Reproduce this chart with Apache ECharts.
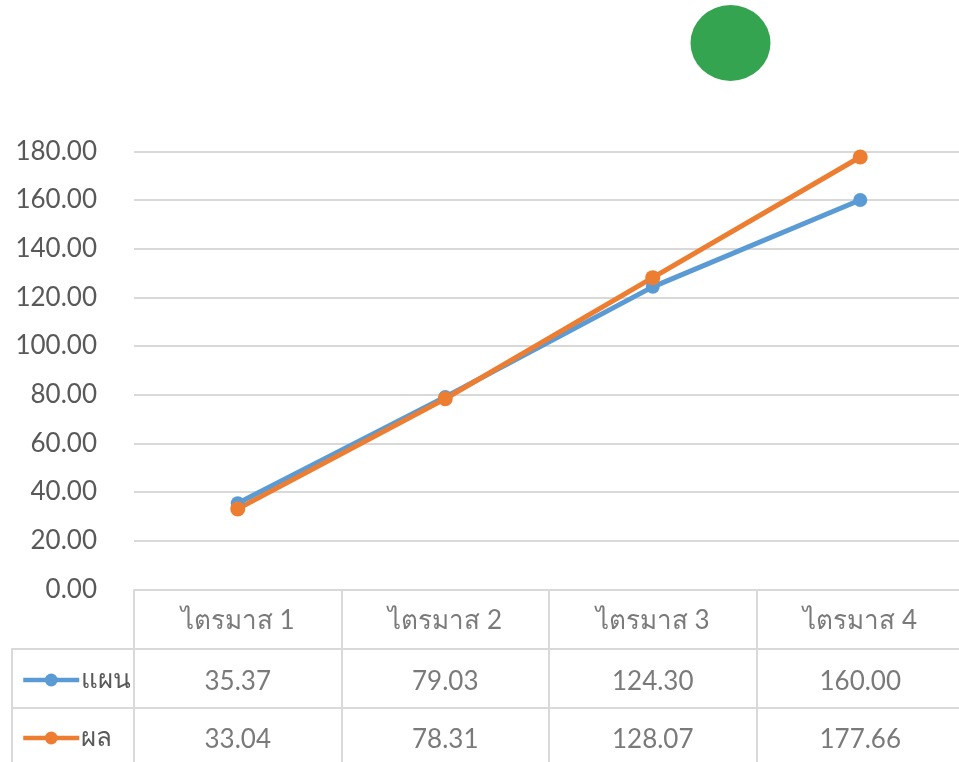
<!DOCTYPE html>
<html lang="th">
<head>
    <meta charset="UTF-8">
    <script type="text/javascript" src="https://cdn.jsdelivr.net/npm/echarts@6/dist/echarts.min.js"></script>
	<style>
		html, body { margin: 0; padding: 0; background: #ffffff; overflow: hidden; }
		#chart { width: 966px; height: 770px; }
	</style>
</head>
<body>
    <div id="chart"></div>
<script type="text/javascript">
	//ข้อมูล
	var categories = ['ไตรมาส 1', 'ไตรมาส 2', 'ไตรมาส 3', 'ไตรมาส 4'];
	var seriesNames = ['แผน', 'ผล'];
	var planValues = [35.37, 79.03, 124.30, 160.00];
	var resultValues = [33.04, 78.31, 128.07, 177.66];
	var yMin = 0, yMax = 180, yStep = 20;
	var tableRows = ['head', 'แผน', 'ผล'];

	var FONT = 'Lato, "Noto Sans", sans-serif';
	var TXT = '#595959';
	var GRIDC = '#d9d9d9';
	var COLORS = ['#5b9bd5', '#ed7d31'];

	var myChart = echarts.init(document.getElementById('chart'));

	function cellSeries(row, values, dy) {
		return {
			type: 'scatter',
			xAxisIndex: 1,
			yAxisIndex: 1,
			silent: true,
			symbolSize: 1,
			itemStyle: { color: 'rgba(0,0,0,0)' },
			label: {
				show: true,
				position: 'inside',
				offset: [0, dy],
				fontFamily: FONT,
				fontSize: 26,
				color: TXT,
				formatter: function(p) { return p.value[2]; }
			},
			data: categories.map(function(c, i) {
				return [c, row, values[i]];
			})
		};
	}

	function legendFor(i, top) {
		return {
			orient: 'vertical',
			left: 16,
			top: top,
			itemWidth: 56,
			itemHeight: 16,
			data: [seriesNames[i]],
			selectedMode: false,
			lineStyle: { width: 4.5 },
			textStyle: { fontFamily: FONT, fontSize: 26, color: TXT, padding: [0, 0, 0, -3] }
		};
	}

	var option = {
		animation: false,
		textStyle: { fontFamily: FONT },
		graphic: [{
			type: 'circle',
			x: 730.5, y: 43,
			scaleX: 40 / 38,
			shape: { cx: 0, cy: 0, r: 38 },
			style: { fill: '#34a450' },
			silent: true
		}],
		legend: [legendFor(0, 662), legendFor(1, 720)],
		grid: [
			{ left: 134, top: 151.3, width: 830, height: 438 },
			{ left: 134, top: 589.3, width: 830, height: 177 },
			{ left: 12, top: 648.3, width: 122, height: 118 }
		],
		xAxis: [
			{
				gridIndex: 0, type: 'category', data: categories,
				axisLine: { show: false }, axisTick: { show: false }, axisLabel: { show: false }
			},
			{
				gridIndex: 1, type: 'category', data: categories,
				axisLine: { show: false }, axisTick: { show: false }, axisLabel: { show: false },
				splitLine: { show: true, lineStyle: { color: GRIDC, width: 2 } }
			},
			{
				gridIndex: 2, type: 'category', data: ['key'],
				axisLine: { show: false }, axisTick: { show: false }, axisLabel: { show: false },
				splitLine: { show: true, lineStyle: { color: GRIDC, width: 2 } }
			}
		],
		yAxis: [
			{
				gridIndex: 0, type: 'value', min: yMin, max: yMax, interval: yStep,
				axisLine: { show: false }, axisTick: { show: false },
				axisLabel: {
					margin: 37, fontFamily: FONT, fontSize: 26, color: TXT,
					formatter: function(v) { return v.toFixed(2); }
				},
				splitLine: { lineStyle: { color: GRIDC, width: 2 } }
			},
			{
				gridIndex: 1, type: 'category', data: tableRows, inverse: true,
				axisLine: { show: false }, axisTick: { show: false }, axisLabel: { show: false },
				splitLine: { show: true, lineStyle: { color: GRIDC, width: 2 } }
			},
			{
				gridIndex: 2, type: 'category', data: seriesNames, inverse: true,
				axisLine: { show: false }, axisTick: { show: false }, axisLabel: { show: false },
				splitLine: { show: true, lineStyle: { color: GRIDC, width: 2 } }
			}
		],
		series: [
			{
				name: seriesNames[0], type: 'line', data: planValues,
				symbol: 'circle', symbolSize: 14,
				itemStyle: { color: COLORS[0] },
				lineStyle: { width: 5, color: COLORS[0] }
			},
			{
				name: seriesNames[1], type: 'line', data: resultValues,
				symbol: 'circle', symbolSize: 15,
				itemStyle: { color: COLORS[1] },
				lineStyle: { width: 5, color: COLORS[1] }
			},
			cellSeries('head', categories, 2),
			cellSeries('แผน', planValues.map(function(v) { return v.toFixed(2); }), 4),
			cellSeries('ผล', resultValues.map(function(v) { return v.toFixed(2); }), 3)
		]
	};
	myChart.setOption(option);
</script>
</body>
</html>
